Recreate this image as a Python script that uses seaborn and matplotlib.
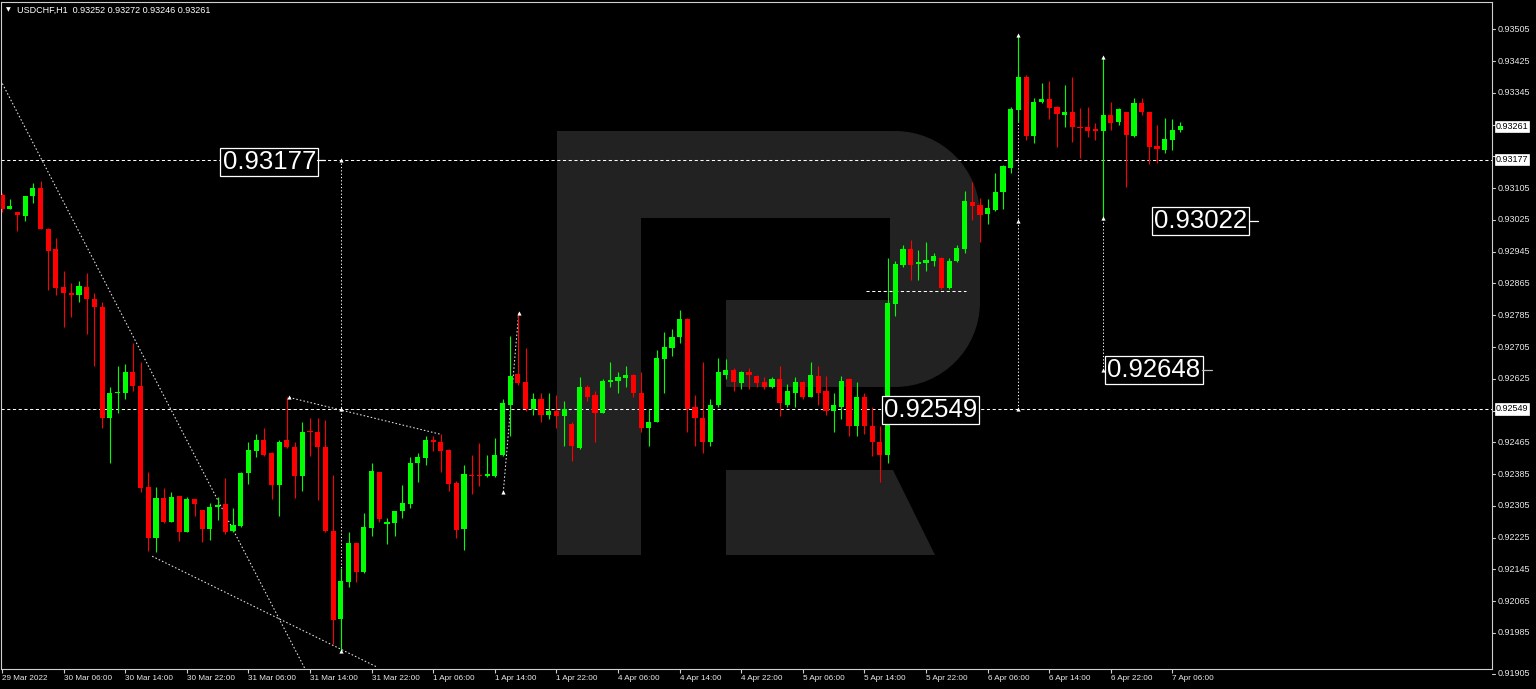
import numpy as np
import pandas as pd
import seaborn as sns
import matplotlib.pyplot as plt
from matplotlib.path import Path
from matplotlib.patches import PathPatch, Polygon
from matplotlib.transforms import Affine2D, blended_transform_factory


# USDCHF H1, one value per bar, 29 Mar 22:00 -> 7 Apr 07:00

opens = [
    0.93088, 0.93053, 0.93045, 0.93035, 0.93085, 0.93105, 0.93002, 0.92952, 0.92857, 0.92842,
    0.92837, 0.92857, 0.92826, 0.92806, 0.92527, 0.92588, 0.92590, 0.92643, 0.92608, 0.92352,
    0.92223, 0.92324, 0.92264, 0.92329, 0.92238, 0.92321, 0.92294, 0.92246, 0.92301, 0.92309,
    0.92241, 0.92254, 0.92387, 0.92442, 0.92472, 0.92437, 0.92357, 0.92470, 0.92452, 0.92379,
    0.92492, 0.92490, 0.92452, 0.92241, 0.92020, 0.92113, 0.92211, 0.92138, 0.92248, 0.92389,
    0.92259, 0.92261, 0.92291, 0.92309, 0.92412, 0.92425, 0.92470, 0.92465, 0.92445, 0.92362,
    0.92246, 0.92382, 0.92382, 0.92379, 0.92379, 0.92432, 0.92558, 0.92636, 0.92618, 0.92550,
    0.92575, 0.92533, 0.92543, 0.92530, 0.92512, 0.92450, 0.92605, 0.92585, 0.92540, 0.92618,
    0.92620, 0.92628, 0.92635, 0.92590, 0.92502, 0.92517, 0.92676, 0.92703, 0.92729, 0.92776,
    0.92553, 0.92527, 0.92467, 0.92558, 0.92635, 0.92646, 0.92615, 0.92643, 0.92633, 0.92618,
    0.92605, 0.92625, 0.92560, 0.92590, 0.92618, 0.92580, 0.92633, 0.92593, 0.92545, 0.92555,
    0.92625, 0.92507, 0.92580, 0.92505, 0.92465, 0.92434, 0.92814, 0.92912, 0.92952, 0.92914,
    0.92917, 0.92922, 0.92930, 0.92854, 0.92922, 0.92952, 0.93070, 0.93063, 0.93040, 0.93050,
    0.93095, 0.93156, 0.93301, 0.93384, 0.93236, 0.93322, 0.93329, 0.93309, 0.93289, 0.93296,
    0.93259, 0.93259, 0.93254, 0.93249, 0.93289, 0.93271, 0.93296, 0.93236, 0.93319, 0.93296,
    0.93211, 0.93201, 0.93226, 0.93252,
]
highs = [
    0.93093, 0.93078, 0.93045, 0.93085, 0.93118, 0.93123, 0.93005, 0.92980, 0.92897, 0.92867,
    0.92872, 0.92892, 0.92842, 0.92819, 0.92605, 0.92658, 0.92661, 0.92716, 0.92668, 0.92389,
    0.92352, 0.92350, 0.92339, 0.92331, 0.92326, 0.92323, 0.92294, 0.92311, 0.92326, 0.92374,
    0.92299, 0.92389, 0.92467, 0.92485, 0.92502, 0.92440, 0.92472, 0.92578, 0.92465, 0.92517,
    0.92527, 0.92525, 0.92520, 0.92382, 0.92148, 0.92238, 0.92211, 0.92286, 0.92412, 0.92390,
    0.92274, 0.92292, 0.92357, 0.92427, 0.92437, 0.92482, 0.92482, 0.92485, 0.92447, 0.92367,
    0.92409, 0.92432, 0.92462, 0.92434, 0.92477, 0.92573, 0.92734, 0.92791, 0.92703, 0.92588,
    0.92590, 0.92590, 0.92585, 0.92568, 0.92515, 0.92630, 0.92610, 0.92593, 0.92625, 0.92666,
    0.92641, 0.92656, 0.92637, 0.92643, 0.92548, 0.92698, 0.92744, 0.92751, 0.92799, 0.92779,
    0.92583, 0.92668, 0.92575, 0.92678, 0.92676, 0.92651, 0.92645, 0.92653, 0.92635, 0.92630,
    0.92630, 0.92658, 0.92613, 0.92630, 0.92620, 0.92666, 0.92656, 0.92633, 0.92588, 0.92633,
    0.92627, 0.92618, 0.92590, 0.92555, 0.92507, 0.92930, 0.92922, 0.92962, 0.92975, 0.92950,
    0.92970, 0.92942, 0.92932, 0.92930, 0.92962, 0.93098, 0.93121, 0.93080, 0.93078, 0.93143,
    0.93163, 0.93309, 0.93490, 0.93389, 0.93332, 0.93369, 0.93374, 0.93311, 0.93364, 0.93384,
    0.93306, 0.93309, 0.93269, 0.93435, 0.93322, 0.93306, 0.93298, 0.93332, 0.93332, 0.93298,
    0.93264, 0.93281, 0.93279, 0.93272,
]
lows = [
    0.93045, 0.93053, 0.92997, 0.93023, 0.93068, 0.93002, 0.92849, 0.92837, 0.92756, 0.92781,
    0.92819, 0.92739, 0.92656, 0.92502, 0.92414, 0.92538, 0.92573, 0.92593, 0.92339, 0.92191,
    0.92189, 0.92262, 0.92264, 0.92216, 0.92238, 0.92279, 0.92213, 0.92218, 0.92269, 0.92233,
    0.92238, 0.92251, 0.92359, 0.92427, 0.92430, 0.92321, 0.92279, 0.92450, 0.92324, 0.92342,
    0.92430, 0.92319, 0.92239, 0.91957, 0.91939, 0.92100, 0.92113, 0.92136, 0.92228, 0.92264,
    0.92208, 0.92228, 0.92274, 0.92299, 0.92364, 0.92407, 0.92442, 0.92389, 0.92342, 0.92223,
    0.92193, 0.92336, 0.92354, 0.92377, 0.92377, 0.92430, 0.92482, 0.92610, 0.92543, 0.92533,
    0.92515, 0.92523, 0.92502, 0.92455, 0.92419, 0.92447, 0.92570, 0.92465, 0.92538, 0.92605,
    0.92588, 0.92605, 0.92580, 0.92492, 0.92455, 0.92515, 0.92588, 0.92683, 0.92716, 0.92490,
    0.92455, 0.92439, 0.92455, 0.92555, 0.92625, 0.92595, 0.92598, 0.92600, 0.92605, 0.92600,
    0.92603, 0.92530, 0.92553, 0.92555, 0.92575, 0.92578, 0.92560, 0.92535, 0.92492, 0.92523,
    0.92480, 0.92482, 0.92485, 0.92430, 0.92364, 0.92414, 0.92784, 0.92907, 0.92874, 0.92874,
    0.92897, 0.92909, 0.92852, 0.92852, 0.92920, 0.92942, 0.93025, 0.92970, 0.93015, 0.93048,
    0.93053, 0.93143, 0.93271, 0.93226, 0.93219, 0.93320, 0.93279, 0.93208, 0.93259, 0.93221,
    0.93181, 0.93234, 0.93226, 0.93030, 0.93251, 0.93264, 0.93108, 0.93234, 0.93289, 0.93166,
    0.93168, 0.93193, 0.93201, 0.93246,
]
closes = [
    0.93053, 0.93060, 0.93038, 0.93085, 0.93105, 0.93002, 0.92947, 0.92854, 0.92842, 0.92837,
    0.92859, 0.92826, 0.92806, 0.92525, 0.92588, 0.92590, 0.92643, 0.92608, 0.92349, 0.92223,
    0.92324, 0.92264, 0.92326, 0.92238, 0.92321, 0.92309, 0.92246, 0.92301, 0.92306, 0.92238,
    0.92256, 0.92387, 0.92445, 0.92470, 0.92434, 0.92357, 0.92467, 0.92452, 0.92379, 0.92492,
    0.92490, 0.92452, 0.92241, 0.92017, 0.92115, 0.92211, 0.92138, 0.92251, 0.92392, 0.92271,
    0.92264, 0.92291, 0.92311, 0.92414, 0.92427, 0.92470, 0.92465, 0.92442, 0.92359, 0.92243,
    0.92384, 0.92379, 0.92379, 0.92384, 0.92434, 0.92563, 0.92633, 0.92615, 0.92550, 0.92575,
    0.92533, 0.92543, 0.92530, 0.92550, 0.92455, 0.92605, 0.92580, 0.92540, 0.92620, 0.92623,
    0.92630, 0.92635, 0.92590, 0.92502, 0.92517, 0.92678, 0.92706, 0.92731, 0.92776, 0.92550,
    0.92525, 0.92467, 0.92560, 0.92641, 0.92646, 0.92618, 0.92643, 0.92635, 0.92615, 0.92605,
    0.92625, 0.92563, 0.92593, 0.92618, 0.92578, 0.92635, 0.92590, 0.92543, 0.92558, 0.92620,
    0.92507, 0.92578, 0.92505, 0.92465, 0.92434, 0.92816, 0.92914, 0.92952, 0.92912, 0.92919,
    0.92924, 0.92935, 0.92854, 0.92922, 0.92955, 0.93073, 0.93060, 0.93038, 0.93055, 0.93095,
    0.93161, 0.93304, 0.93384, 0.93236, 0.93322, 0.93329, 0.93306, 0.93291, 0.93296, 0.93259,
    0.93256, 0.93249, 0.93249, 0.93289, 0.93269, 0.93304, 0.93239, 0.93319, 0.93296, 0.93208,
    0.93203, 0.93229, 0.93251, 0.93261,
]

time_labels = [
    '29 Mar 2022', '30 Mar 06:00', '30 Mar 14:00', '30 Mar 22:00', '31 Mar 06:00',
    '31 Mar 14:00', '31 Mar 22:00', '1 Apr 06:00', '1 Apr 14:00', '1 Apr 22:00',
    '4 Apr 06:00', '4 Apr 14:00', '4 Apr 22:00', '5 Apr 06:00', '5 Apr 14:00',
    '5 Apr 22:00', '6 Apr 06:00', '6 Apr 14:00', '6 Apr 22:00', '7 Apr 06:00',
]

price_ticks = [
    0.93505, 0.93425, 0.93345, 0.93265, 0.93185, 0.93105, 0.93025, 0.92945, 0.92865,
    0.92785, 0.92705, 0.92625, 0.92545, 0.92465, 0.92385, 0.92305, 0.92225, 0.92145,
    0.92065, 0.91985, 0.91905,
]
price_tick_text = [
    '0.93505', '0.93425', '0.93345', '', '', '0.93105', '0.93025', '0.92945', '0.92865',
    '0.92785', '0.92705', '0.92625', '', '0.92465', '0.92385', '0.92305', '0.92225',
    '0.92145', '0.92065', '0.91985', '0.91905',
]

# levels and analysis objects drawn by the author
levels = [0.93177, 0.92549]
last_price = 0.93261
target_up = 0.93022
target_down = 0.92648
side_level = 0.92847


# Montagem do gráfico

sns.set_theme(style='dark', rc={
    'figure.facecolor': 'black',
    'axes.facecolor': 'black',
    'axes.edgecolor': '#cfcfcf',
    'savefig.facecolor': 'black',
})
plt.rcParams['font.family'] = ['Liberation Sans', 'DejaVu Sans']

fig = plt.figure(figsize=(15.36, 6.89), dpi=100)
ax = fig.add_axes([1 / 1536, 20 / 689, 1491 / 1536, 667 / 689])
ax.set_xlim(-0.13, 193.5)
ax.set_ylim(0.91894, 0.93574)
for s in ax.spines.values():
    s.set_visible(True)
    s.set_color('#cfcfcf')
    s.set_linewidth(0.8)

# watermark logo (pixel coordinates of the figure)
px = Affine2D().scale(1 / 1536, -1 / 689).translate(0, 1) + fig.transFigure
verts = [(557, 131), (895, 131), (942, 131), (980, 169), (980, 216), (980, 302),
         (980, 349), (942, 387), (895, 387), (726, 387), (726, 300), (890, 300),
         (890, 218), (641, 218), (641, 555), (557, 555), (557, 131)]
codes = [Path.MOVETO, Path.LINETO, Path.CURVE4, Path.CURVE4, Path.CURVE4, Path.LINETO,
         Path.CURVE4, Path.CURVE4, Path.CURVE4, Path.LINETO, Path.LINETO, Path.LINETO,
         Path.LINETO, Path.LINETO, Path.LINETO, Path.LINETO, Path.CLOSEPOLY]
ax.add_patch(PathPatch(Path(verts, codes), transform=px, fc='#222222', ec='none', zorder=0.5))
ax.add_patch(Polygon([(726, 470), (893, 470), (935, 555), (726, 555)], closed=True,
                     transform=px, fc='#222222', ec='none', zorder=0.5))

# candles
df = pd.DataFrame({'open': opens, 'high': highs, 'low': lows, 'close': closes})
df['bar'] = np.arange(len(df))
up = df['close'] >= df['open']
cores = np.where(up, '#00ff00', '#ff0000')
body_lo = df[['open', 'close']].min(axis=1)
body_h = (df['close'] - df['open']).abs().clip(lower=0.00003)

ax.vlines(df['bar'], df['low'], df['high'], colors=cores, lw=0.8, zorder=3)
ax.bar(df['bar'], body_h, bottom=body_lo, width=0.67, color=cores, lw=0, zorder=4)

# horizontal levels
for lv in levels:
    ax.axhline(lv, color='white', lw=0.75, ls=(0, (3, 2.5)), zorder=2)
ax.hlines(side_level, 112.2, 125.2, color='white', lw=0.75, ls=(0, (3, 2.5)), zorder=2)

# vertical measures
dot = dict(color='white', lw=0.75, ls=(0, (1.2, 2)), zorder=2)
ax.vlines(44, lows[44], levels[0], **dot)
ax.vlines(132, levels[1], highs[132], **dot)
ax.vlines(143, target_down, highs[143], **dot)

# trend lines
trend_lines = [
    ((-0.5, 0.93389), (40.0, 0.91870)),
    ((19.5, 0.92178), (48.8, 0.91898)),
    ((37.3, 0.92578), (57.0, 0.92485)),
    ((65.1, 0.92339), (67.1, 0.92791)),
]
for (x0, y0), (x1, y1) in trend_lines:
    ax.plot([x0, x1], [y0, y1], color='#e8e8e8', lw=0.75, ls=(0, (1.5, 2)), zorder=2)

marks = pd.DataFrame({
    'x': [44, 44, 44, 132, 132, 132, 143, 143, 143, 37.3, 65.1, 67.1],
    'y': [levels[0], levels[1], lows[44], highs[132], target_up, levels[1],
          highs[143], lows[143], target_down, 0.92578, 0.92339, 0.92791],
})
sns.scatterplot(data=marks, x='x', y='y', marker='^', s=9, color='white',
                linewidth=0, zorder=5, ax=ax, legend=False)
ax.set_xlabel('')
ax.set_ylabel('')

# boxed price labels
big = dict(fontsize=18.5, color='white', ha='center', va='center', zorder=6,
           bbox=dict(boxstyle='square,pad=0.08', fc='black', ec='white', lw=0.9))
ax.text(34.7, 0.93172, f'{levels[0]:.5f}', **big)
ax.text(120.6, 0.92546, f'{levels[1]:.5f}', **big)
ax.text(155.6, 0.93022, f'{target_up:.5f}', **big)
ax.text(149.6, 0.92647, f'{target_down:.5f}', **big)
ax.plot([40.9, 42.0], [levels[0]] * 2, color='white', lw=0.9, zorder=6)
ax.plot([161.9, 163.1], [target_up] * 2, color='white', lw=0.9, zorder=6)
ax.plot([155.9, 157.2], [target_down] * 2, color='#bbbbbb', lw=0.9, zorder=6)

# price scale on the right
ax.set_yticks([])
blend = blended_transform_factory(ax.transAxes, ax.transData)
for v, t in zip(price_ticks, price_tick_text):
    dy = -6.5 if v == price_ticks[-1] else 0
    vv = v - 0.00023 if v == price_ticks[-1] else v
    ax.plot([1, 1.0022], [vv, vv], transform=blend, clip_on=False, color='#cfcfcf', lw=0.8)
    if t:
        ax.annotate(t, xy=(1, v), xycoords=blend, xytext=(3.8, dy), textcoords='offset points',
                    ha='left', va='center', fontsize=6.5, color='#e8e8e8', annotation_clip=False)
for v in [last_price] + levels:
    ax.annotate(f'{v:.5f}', xy=(1, v), xycoords=blend, xytext=(2.6, 0), textcoords='offset points',
                ha='left', va='center', fontsize=6.5, color='black', annotation_clip=False,
                bbox=dict(boxstyle='square,pad=0.12', fc='white', ec='white', lw=0.5), zorder=7)

# time scale
ax.set_xticks(np.arange(0, 8 * len(time_labels), 8))
ax.set_xticklabels(time_labels, ha='left', fontsize=5.9, color='#e8e8e8')
ax.tick_params(axis='x', bottom=True, length=3, width=0.8, color='#cfcfcf', pad=1.5, direction='out')

# header
fig.text(6 / 1536, 1 - 10 / 689, '▼', family='DejaVu Sans', fontsize=4.5, color='white', va='center')
fig.text(17 / 1536, 1 - 10 / 689, 'USDCHF,H1  0.93252 0.93272 0.93246 0.93261',
         fontsize=6.5, color='white', va='center')

fig.savefig('out.png', dpi=100, facecolor='black')
